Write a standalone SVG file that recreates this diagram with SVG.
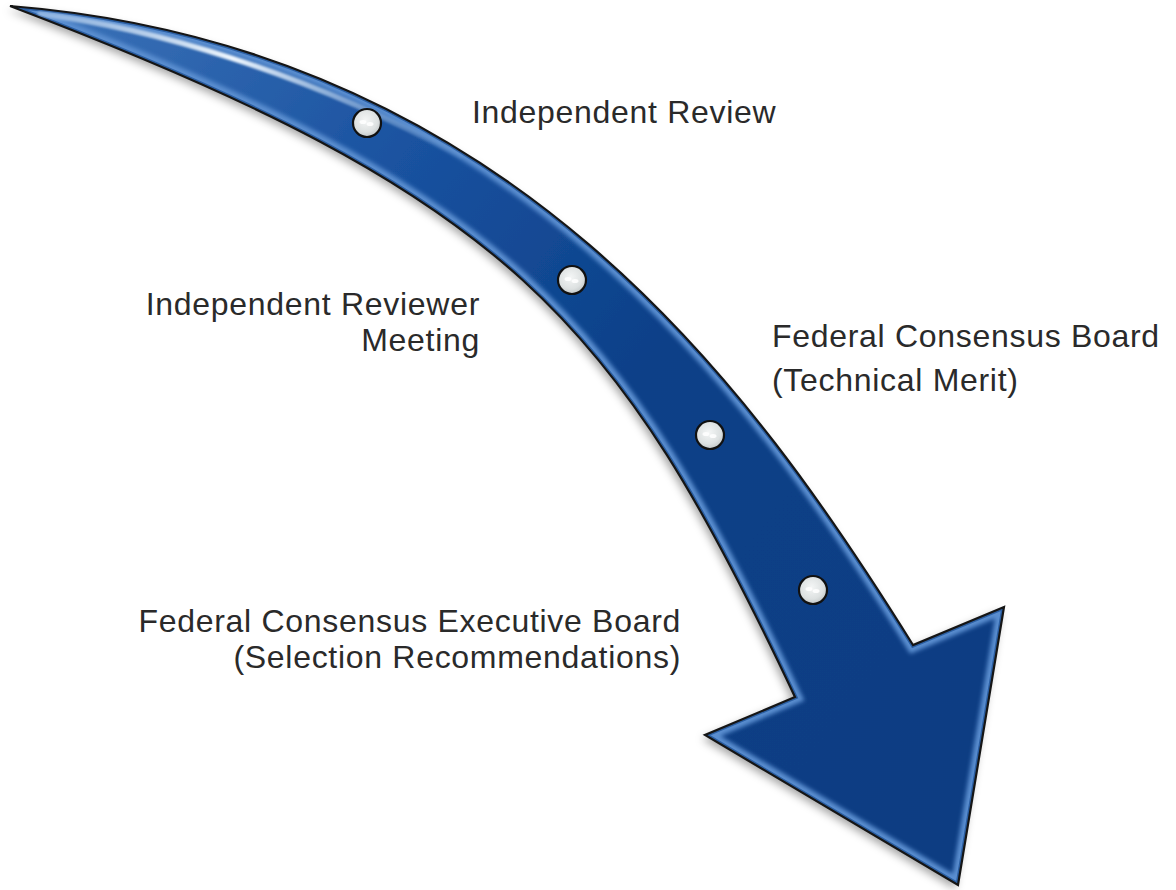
<svg xmlns="http://www.w3.org/2000/svg" width="1176" height="890" viewBox="0 0 1176 890">
  <style>
    .lbl { font-family: "Liberation Sans", Arial, sans-serif; font-size: 32px; letter-spacing: 0.7px; fill: #2a2a2a; }
    .end { text-anchor: end; }
    .dot { fill: url(#dotGrad); stroke: #111; stroke-width: 2.2; }
    .shine { fill: #ffffff; opacity: 0.85; }
  </style>
  <defs>
    <path id="arrowPath" d="M10,6 C510,46 754,390 913,645 L1004,607 L958,885 L705,735 L795,697 C616,317 510,196 10,6 Z"/>
    <linearGradient id="bodyGrad" x1="0" y1="0" x2="1176" y2="890" gradientUnits="userSpaceOnUse">
      <stop offset="0" stop-color="#3f76bb"/>
      <stop offset="0.28" stop-color="#1a52a0"/>
      <stop offset="0.5" stop-color="#0b4088"/>
      <stop offset="1" stop-color="#093c80"/>
    </linearGradient>
    <linearGradient id="hiGrad" x1="30" y1="0" x2="480" y2="0" gradientUnits="userSpaceOnUse">
      <stop offset="0" stop-color="#cfe3f7" stop-opacity="0.4"/>
      <stop offset="0.45" stop-color="#eef6fe" stop-opacity="1"/>
      <stop offset="1" stop-color="#9cc3ec" stop-opacity="0"/>
    </linearGradient>
    <radialGradient id="dotGrad" cx="0.45" cy="0.4" r="0.6">
      <stop offset="0" stop-color="#f4f6f6"/>
      <stop offset="0.7" stop-color="#dde1e1"/>
      <stop offset="1" stop-color="#c4c9ca"/>
    </radialGradient>
    <clipPath id="arrowClip">
      <use href="#arrowPath"/>
    </clipPath>
    <filter id="shadow" x="-5%" y="-5%" width="110%" height="115%">
      <feDropShadow dx="-3" dy="4" stdDeviation="4" flood-color="#000" flood-opacity="0.35"/>
    </filter>
    <filter id="blur2" x="-5%" y="-5%" width="110%" height="110%">
      <feGaussianBlur stdDeviation="2"/>
    </filter>
    <filter id="blur1" x="-10%" y="-20%" width="120%" height="140%">
      <feGaussianBlur stdDeviation="1.1"/>
    </filter>
  </defs>

  <g id="connectors">
    <use href="#arrowPath" fill="url(#bodyGrad)" filter="url(#shadow)"/>
    <g clip-path="url(#arrowClip)">
      <use href="#arrowPath" fill="none" stroke="#5a8ed0" stroke-width="14" stroke-linejoin="miter" filter="url(#blur2)"/>
      <use href="#arrowPath" fill="none" stroke="#0b3f85" stroke-width="5" stroke-linejoin="miter" opacity="0.6"/>
      <path d="M40,14 C150,28 300,70 460,156" fill="none" stroke="url(#hiGrad)" stroke-width="5.5" stroke-linecap="round" filter="url(#blur1)"/>
    </g>
    <use href="#arrowPath" fill="none" stroke="#151515" stroke-width="2.2" stroke-linejoin="miter"/>
  </g>

  <g id="node-independent-review">
    <circle class="dot" cx="367" cy="123" r="14"/>
    <ellipse class="shine" cx="363" cy="122" rx="3.5" ry="2"/>
    <ellipse class="shine" cx="370" cy="124" rx="3.5" ry="2"/>
    <text class="lbl" x="472" y="123">Independent Review</text>
  </g>

  <g id="node-reviewer-meeting">
    <circle class="dot" cx="572" cy="280" r="14"/>
    <ellipse class="shine" cx="568" cy="279" rx="3.5" ry="2"/>
    <ellipse class="shine" cx="575" cy="281" rx="3.5" ry="2"/>
    <text class="lbl end" x="480" y="315">Independent Reviewer</text>
    <text class="lbl end" x="480" y="351">Meeting</text>
  </g>

  <g id="node-consensus-board">
    <circle class="dot" cx="710" cy="435" r="14"/>
    <ellipse class="shine" cx="706" cy="434" rx="3.5" ry="2"/>
    <ellipse class="shine" cx="713" cy="436" rx="3.5" ry="2"/>
    <text class="lbl" x="772" y="347">Federal Consensus Board</text>
    <text class="lbl" x="772" y="391">(Technical Merit)</text>
  </g>

  <g id="node-executive-board">
    <circle class="dot" cx="813" cy="590" r="14"/>
    <ellipse class="shine" cx="809" cy="589" rx="3.5" ry="2"/>
    <ellipse class="shine" cx="816" cy="591" rx="3.5" ry="2"/>
    <text class="lbl end" x="681" y="632">Federal Consensus Executive Board</text>
    <text class="lbl end" x="681" y="668">(Selection Recommendations)</text>
  </g>
</svg>
